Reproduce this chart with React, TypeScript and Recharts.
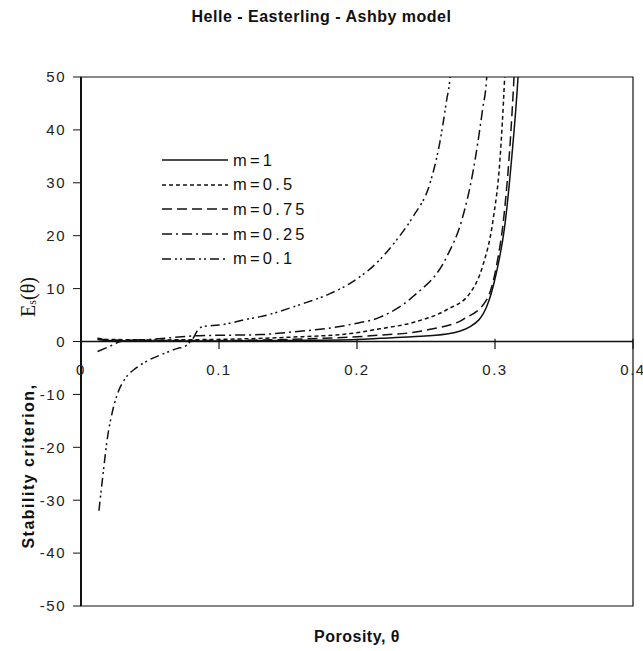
import React from 'react';
import { LineChart, Line, XAxis, YAxis, ReferenceLine, ReferenceArea } from 'recharts';

// porosity theta vs stability criterion Es(theta)
const m1 = [
  [0.012, 0.4], [0.02, 0.2], [0.05, 0.1], [0.1, 0.1], [0.15, 0.2], [0.2, 0.4], [0.2167, 0.6],
  [0.24, 0.9], [0.265, 1.4], [0.282, 2.8], [0.294, 6.6], [0.301, 13], [0.307, 21.7],
  [0.312, 34.4], [0.3167, 50], [0.318, 56],
];
const m05 = [
  [0.012, 0.6], [0.02, 0.4], [0.05, 0.3], [0.1, 0.4], [0.15, 0.8], [0.195, 1.5], [0.2167, 2.4],
  [0.2406, 3.6], [0.265, 6], [0.282, 9.2], [0.291, 14.2], [0.2986, 23], [0.3036, 34.4],
  [0.307, 50], [0.308, 56],
];
const m075 = [
  [0.012, 0.5], [0.02, 0.3], [0.05, 0.2], [0.1, 0.2], [0.15, 0.4], [0.2, 0.9], [0.2167, 1.2],
  [0.24, 1.7], [0.253, 2.3], [0.277, 4.2], [0.294, 7.9], [0.301, 14.2], [0.307, 25],
  [0.311, 37.6], [0.3138, 50], [0.315, 56],
];
const m025 = [
  [0.012, -1.9], [0.02, -1.0], [0.03, 0.1], [0.05, 0.4], [0.086, 1.1], [0.13, 1.3],
  [0.149, 1.7], [0.195, 3.2], [0.2167, 4.6], [0.2406, 8.5], [0.265, 16], [0.276, 23],
  [0.284, 32], [0.291, 43.9], [0.294, 50], [0.295, 56],
];
const m01 = [
  [0.013, -32], [0.016, -25], [0.019, -18.5], [0.023, -13], [0.027, -9.5], [0.032, -7],
  [0.04, -5], [0.05, -3.4], [0.06, -2.3], [0.07, -1.3], [0.075, -1.0], [0.078, -0.3],
  [0.081, 0.5], [0.084, 1.9], [0.087, 2.7], [0.09, 2.9], [0.1, 3.1], [0.122, 4.3],
  [0.13, 4.7], [0.159, 7.0], [0.18, 9], [0.195, 11], [0.2167, 15.5], [0.229, 19.3],
  [0.2406, 23.6], [0.253, 30], [0.26, 37.6], [0.265, 45.7], [0.2674, 50], [0.268, 56],
];

const xTicks = [0, 0.1, 0.2, 0.3, 0.4];
const yTicks = [-50, -40, -30, -20, -10, 0, 10, 20, 30, 40, 50];

const toRows = (pts: number[][]) => pts.map(([t, e]) => ({ theta: t, es: e }));

const series = [
  { name: 'm=1', data: toRows(m1), dash: undefined },
  { name: 'm=0.5', data: toRows(m05), dash: '4 3' },
  { name: 'm=0.75', data: toRows(m075), dash: '10 5' },
  { name: 'm=0.25', data: toRows(m025), dash: '10 4 2 4' },
  { name: 'm=0.1', data: toRows(m01), dash: '9 4 2 3 2 4' },
];

const SANS = '"Liberation Sans", Arial, Helvetica, sans-serif';
const INK = '#111';

const YTitle = () => (
  <g>
    <text
      transform="rotate(-90, 28, 466)"
      x={28}
      y={466}
      textAnchor="middle"
      dominantBaseline="central"
      fontFamily={SANS}
      fontWeight="bold"
      fontSize={16}
      letterSpacing={1.5}
      fill={INK}
    >
      Stability criterion,
    </text>
    <text
      transform="rotate(-90, 28, 297)"
      x={28}
      y={297}
      textAnchor="middle"
      dominantBaseline="central"
      fontFamily='"Liberation Serif", "Times New Roman", serif'
      fontSize={20}
      fill={INK}
    >
      E<tspan fontSize={12} dy={4}>s</tspan>
      <tspan dy={-4}>(θ)</tspan>
    </text>
  </g>
);

const LegendBox = () => (
  <div style={{ position: 'absolute', left: 162, top: 148, fontFamily: SANS }}>
    {series.map((s) => (
      <div key={s.name} style={{ display: 'flex', alignItems: 'center', height: 24.6 }}>
        <svg width={66} height={10}>
          <line x1={0} y1={5} x2={66} y2={5} stroke={INK} strokeWidth={1.5} strokeDasharray={s.dash} />
        </svg>
        <span style={{ marginLeft: 5, fontSize: 16.5, letterSpacing: 3.2, color: INK }}>{s.name}</span>
      </div>
    ))}
  </div>
);

export default function App() {
  return (
    <div style={{ position: 'absolute', left: 0, top: 0, width: 643, height: 651, background: '#fff' }}>
      <div
        style={{
          position: 'absolute',
          left: 0,
          width: 643,
          top: 8,
          textAlign: 'center',
          fontFamily: SANS,
          fontWeight: 'bold',
          fontSize: 16,
          letterSpacing: 0.5,
          color: INK,
        }}
      >
        Helle - Easterling - Ashby model
      </div>
      <LineChart width={643} height={651} margin={{ top: 77, right: 10, bottom: 45, left: 0 }}>
        <XAxis type="number" dataKey="theta" domain={[0, 0.4]} hide allowDataOverflow />
        <YAxis
          type="number"
          domain={[-50, 50]}
          ticks={yTicks}
          allowDataOverflow
          width={81}
          tickSize={8}
          tickMargin={7}
          axisLine={{ stroke: INK, strokeWidth: 2 }}
          tickLine={{ stroke: INK }}
          tick={{ fontSize: 15, fill: '#222', fontFamily: SANS, letterSpacing: 1.5 }}
          label={<YTitle />}
        />
        <ReferenceArea x1={0} x2={0.4} y1={-50} y2={50} fill="none" fillOpacity={0} stroke={INK} strokeWidth={1.2} />
        <ReferenceLine y={0} stroke={INK} strokeWidth={1.3} />
        {xTicks.map((t) => (
          <ReferenceLine
            key={t}
            segment={[{ x: t, y: 0.5 }, { x: t, y: -1.4 }]}
            stroke={INK}
            strokeWidth={1.2}
            label={{ value: String(t), position: 'bottom', offset: 15, fill: '#222', fontSize: 15, fontFamily: SANS, letterSpacing: 1.5 }}
          />
        ))}
        {series.map((s) => (
          <Line
            key={s.name}
            data={s.data}
            dataKey="es"
            name={s.name}
            type="monotone"
            stroke={INK}
            strokeWidth={1.5}
            strokeDasharray={s.dash}
            dot={false}
            activeDot={false}
            isAnimationActive={false}
          />
        ))}
      </LineChart>
      <div
        style={{
          position: 'absolute',
          left: 81,
          width: 552,
          top: 628,
          textAlign: 'center',
          fontFamily: SANS,
          fontWeight: 'bold',
          fontSize: 16,
          letterSpacing: 0.5,
          color: INK,
        }}
      >
        Porosity, θ
      </div>
      <LegendBox />
    </div>
  );
}
